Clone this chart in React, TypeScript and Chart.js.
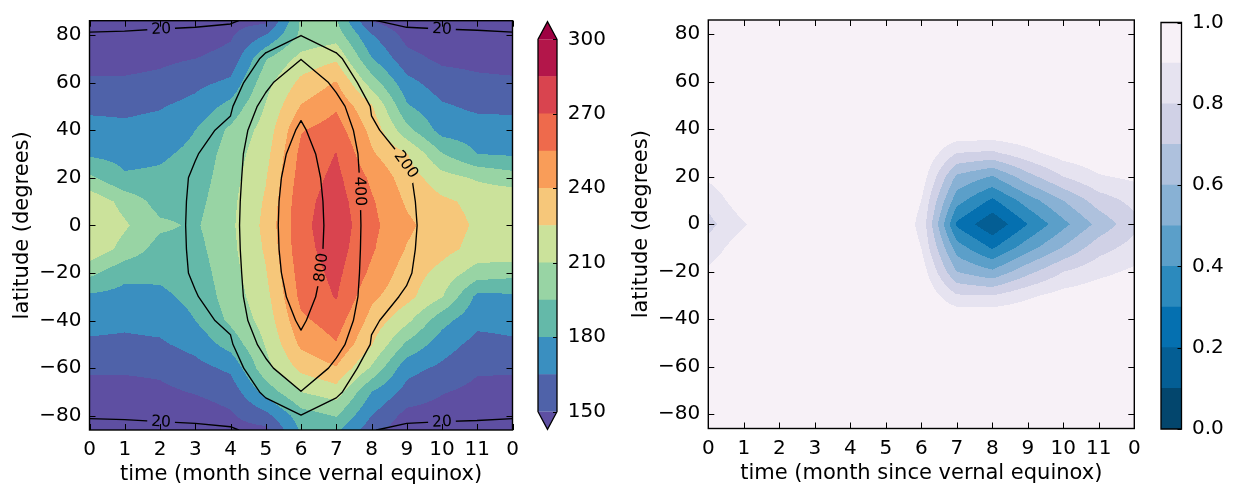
import React, { useEffect, useRef } from "react";
import { Chart, registerables } from "chart.js";

Chart.register(...registerables);

// ---------------- grid axes ----------------
const months = [0, 1, 2, 3, 4, 5, 6, 7, 8, 9, 10, 11, 12];
const monthTicks = [0, 1, 2, 3, 4, 5, 6, 7, 8, 9, 10, 11, 12];
// rows listed north -> south
const latitudes = [86, 80, 70, 60, 50, 40, 30, 20, 10, 0, -10, -20, -30, -40, -50, -60, -70, -80, -86];
const latTicks = [-80, -60, -40, -20, 0, 20, 40, 60, 80];

// ---------------- left panel: filled field (one column per month, north -> south) ----------------
const tempM0 = [134, 138, 145, 152, 162, 170, 177.5, 198, 221, 223, 221, 199, 177, 170, 162.5, 152, 145, 139, 135];
const tempM1 = [134, 138, 145, 152, 162, 168, 175, 182, 205, 212, 205, 184, 175, 168, 162, 152, 145, 139, 135];
const tempM2 = [136, 140, 147, 154, 164, 170, 177.5, 183, 189, 198, 189, 183, 177, 170, 163, 153, 147, 140, 136];
const tempM3 = [137, 142, 150, 161, 170, 180, 184, 187, 190, 193, 190, 187, 184, 180, 170, 160, 151, 142, 137];
const tempM4 = [145, 148, 155, 168, 185, 198, 202, 204, 206, 207, 206, 204, 202, 198, 186, 168, 156, 148, 145];
const tempM5 = [146, 165, 194, 205, 211, 216, 220, 224, 227, 229, 227, 224, 220, 216, 211, 205, 186, 160, 146];
const tempM6 = [197, 198, 215, 229, 241, 254, 259, 262, 265, 266, 265, 262, 259, 252, 243, 229, 210, 188, 182];
const tempM7 = [196, 203, 223, 241, 253, 262, 270.5, 274, 277, 279, 277, 274, 271, 262, 254, 239, 218, 196, 183];
const tempM8 = [149, 166, 181, 203, 227, 236, 242, 252, 257, 259, 257, 252, 243, 235, 226, 208, 180, 165, 156];
const tempM9 = [140, 145, 155, 170, 182, 200, 226, 233, 238, 243, 239, 233, 230, 214, 192, 170, 160, 145, 140];
const tempM10 = [136, 140, 147, 157, 167, 174, 196, 216, 228, 232, 230, 220, 211, 185, 172, 162, 151, 143, 139];
const tempM11 = [135, 139, 146, 153, 162, 172, 180, 208, 221, 223, 220, 203, 176, 169, 160, 152, 146, 140, 135];
const tempM12 = [134, 138, 145, 152, 162, 170, 178, 202, 222, 223, 221, 200, 177, 170, 162.5, 152, 145, 139, 135];

const tempLevels = [150, 165, 180, 195, 210, 225, 240, 255, 270, 285, 300];
const tempColors = ["#4f62a9", "#3a8fc0", "#64b9a9", "#98d4a4", "#cbe29b", "#f6c77a", "#f99d59", "#ee6a4c", "#d9444f", "#b3164a"];
const tempUnder = "#5e4fa2";
const tempOver = "#9e0142";
const tempBarTicks = [150, 180, 210, 240, 270, 300];

// ---------------- left panel: line contour field ----------------
const dustM0 = [12, 22, 32, 45, 60, 75, 88, 95, 98, 100, 98, 95, 88, 75, 60, 45, 32, 22, 12];
const dustM1 = [12, 23, 33, 48, 65, 85, 100, 112, 118, 120, 118, 112, 100, 85, 65, 48, 33, 23, 12];
const dustM2 = [13, 25, 38, 58, 85, 110, 135, 150, 158, 160, 158, 150, 135, 110, 85, 58, 38, 25, 13];
const dustM3 = [14, 27, 45, 80, 130, 162, 195, 212, 214, 215, 214, 212, 195, 162, 130, 80, 45, 27, 14];
const dustM4 = [17, 30, 60, 110, 180, 230, 250, 270, 290, 300, 290, 270, 250, 230, 180, 110, 60, 30, 17];
const dustM5 = [30, 110, 230, 350, 470, 575, 660, 680, 688, 690, 688, 680, 660, 575, 470, 350, 230, 110, 30];
const dustM6 = [90, 195, 395, 580, 740, 840, 900, 950, 985, 1000, 985, 950, 900, 840, 740, 580, 395, 195, 90];
const dustM7 = [50, 110, 230, 349, 470, 575, 660, 680, 688, 692, 688, 680, 660, 575, 470, 349, 230, 110, 50];
const dustM8 = [21, 28, 60, 100, 190, 215, 238, 255, 268, 275, 268, 255, 238, 215, 190, 100, 60, 28, 21];
const dustM9 = [14, 27, 42, 70, 115, 150, 189, 212, 220, 225, 220, 212, 189, 150, 115, 70, 42, 27, 14];
const dustM10 = [13, 25, 35, 55, 80, 100, 120, 130, 138, 140, 138, 130, 120, 100, 80, 55, 35, 25, 13];
const dustM11 = [12, 24, 33, 50, 70, 90, 102, 108, 110, 110, 110, 108, 102, 90, 70, 50, 33, 24, 12];
const dustM12 = [12, 22, 32, 45, 60, 75, 88, 95, 98, 100, 98, 95, 88, 75, 60, 45, 32, 22, 12];

const dustLevels = [20, 200, 400, 800];
const dustLabelLevels = [20, 20, 20, 20, 200, 400, 800];
const dustLabelMonths = [2.03, 10.0, 2.03, 10.0, 8.91, 7.68, 6.59];
const dustLabelLats = [83.2, 83.2, -82.6, -82.9, 24.8, 14.3, -17.8];

// ---------------- right panel: filled fraction field ----------------
const fracM0 = [1, 1, 1, 1, 1, 1, 1, 0.92, 0.83, 0.77, 0.84, 0.92, 1, 1, 1, 1, 1, 1, 1];
const fracM1 = [1, 1, 1, 1, 1, 1, 1, 1, 0.97, 0.89, 0.97, 1, 1, 1, 1, 1, 1, 1, 1];
const fracM2 = [1, 1, 1, 1, 1, 1, 1, 1, 1, 1, 1, 1, 1, 1, 1, 1, 1, 1, 1];
const fracM3 = [1, 1, 1, 1, 1, 1, 1, 1, 1, 1, 1, 1, 1, 1, 1, 1, 1, 1, 1];
const fracM4 = [1, 1, 1, 1, 1, 1, 1, 1, 1, 1, 1, 1, 1, 1, 1, 1, 1, 1, 1];
const fracM5 = [1, 1, 1, 1, 1, 1, 1, 1, 1, 1, 1, 1, 1, 1, 1, 1, 1, 1, 1];
const fracM6 = [1, 1, 1, 1, 1, 1, 1, 0.96, 0.9, 0.878, 0.9, 0.96, 1, 1, 1, 1, 1, 1, 1];
const fracM7 = [1, 1, 1, 1, 1, 1, 0.8, 0.58, 0.44, 0.28, 0.45, 0.6, 0.81, 1, 1, 1, 1, 1, 1];
const fracM8 = [1, 1, 1, 1, 1, 1, 0.78, 0.49, 0.28, 0.12, 0.29, 0.52, 0.8, 1, 1, 1, 1, 1, 1];
const fracM9 = [1, 1, 1, 1, 1, 1, 0.87, 0.66, 0.45, 0.3, 0.46, 0.67, 0.88, 1, 1, 1, 1, 1, 1];
const fracM10 = [1, 1, 1, 1, 1, 1, 0.95, 0.8, 0.6, 0.47, 0.61, 0.8, 0.94, 1, 1, 1, 1, 1, 1];
const fracM11 = [1, 1, 1, 1, 1, 1, 0.98, 0.89, 0.75, 0.63, 0.76, 0.87, 0.97, 1, 1, 1, 1, 1, 1];
const fracM12 = [1, 1, 1, 1, 1, 1, 1, 0.92, 0.83, 0.77, 0.84, 0.92, 1, 1, 1, 1, 1, 1, 1];

const fracLevels = [0, 0.1, 0.2, 0.3, 0.4, 0.5, 0.6, 0.7, 0.8, 0.9, 1.0];
const fracColors = ["#03466d", "#045e94", "#0570b0", "#2c8abd", "#5b9fc9", "#88b1d4", "#aec1dd", "#d0d1e6", "#e6e3f0", "#f7f1f7"];
const fracBarTicks = [0, 0.2, 0.4, 0.6, 0.8, 1.0];

// ---------------- assembled tables ----------------
const tempGrid = [tempM0, tempM1, tempM2, tempM3, tempM4, tempM5, tempM6, tempM7, tempM8, tempM9, tempM10, tempM11, tempM12];
const dustGrid = [dustM0, dustM1, dustM2, dustM3, dustM4, dustM5, dustM6, dustM7, dustM8, dustM9, dustM10, dustM11, dustM12];
const fracGrid = [fracM0, fracM1, fracM2, fracM3, fracM4, fracM5, fracM6, fracM7, fracM8, fracM9, fracM10, fracM11, fracM12];
const dustLabels = dustLabelLevels.map((lv, k) => ({ level: lv, m: dustLabelMonths[k], lat: dustLabelLats[k] }));

const FONT_FAMILY = "'DejaVu Sans', 'Liberation Sans', sans-serif";
const AX_FONT = { family: FONT_FAMILY, size: 20 };
const TITLE_FONT = { family: FONT_FAMILY, size: 21 };
const LABEL_FONT_SIZE = 15.5;

// ---------------- helpers ----------------
function locate(arr: number[], v: number): [number, number] {
  const n = arr.length;
  for (let i = 0; i < n - 1; i++) {
    const a = arr[i], b = arr[i + 1];
    if (v >= Math.min(a, b) && v <= Math.max(a, b)) return [i, (v - a) / (b - a)];
  }
  const asc = arr[n - 1] > arr[0];
  if ((v < arr[0]) === asc) return [0, 0];
  return [n - 2, 1];
}
function sampleAt(g: number[][], i: number, tx: number, j: number, ty: number) {
  const a = g[i][j], b = g[i + 1][j], c = g[i][j + 1], d = g[i + 1][j + 1];
  return (a * (1 - tx) + b * tx) * (1 - ty) + (c * (1 - tx) + d * tx) * ty;
}
function sample(g: number[][], m: number, lat: number) {
  const [i, tx] = locate(months, m);
  const [j, ty] = locate(latitudes, lat);
  return sampleAt(g, i, tx, j, ty);
}
function hexRgb(h: string) {
  const s = h.replace("#", "");
  return [parseInt(s.slice(0, 2), 16), parseInt(s.slice(2, 4), 16), parseInt(s.slice(4, 6), 16)];
}

function fieldPlugin(grid: number[][], levels: number[], colors: string[], under: string | null, over: string | null) {
  const rgb = colors.map(hexRgb);
  const uR = hexRgb(under || colors[0]);
  const oR = hexRgb(over || colors[colors.length - 1]);
  const pick = (v: number) => {
    if (v < levels[0]) return uR;
    if (v > levels[levels.length - 1]) return oR;
    for (let k = 0; k < colors.length; k++) if (v <= levels[k + 1]) return rgb[k];
    return oR;
  };
  return {
    id: "filledField",
    beforeDatasetsDraw(chart: any) {
      const a = chart.chartArea;
      const xs = chart.scales.x, ys = chart.scales.y;
      const x0 = Math.floor(a.left), y0 = Math.floor(a.top);
      const w = Math.ceil(a.right) - x0, h = Math.ceil(a.bottom) - y0;
      const off = document.createElement("canvas");
      off.width = w; off.height = h;
      const octx = off.getContext("2d")!;
      const img = octx.createImageData(w, h);
      const cols: [number, number][] = [];
      for (let px = 0; px < w; px++) cols.push(locate(months, xs.getValueForPixel(x0 + px + 0.5)));
      const rows: [number, number][] = [];
      for (let py = 0; py < h; py++) rows.push(locate(latitudes, ys.getValueForPixel(y0 + py + 0.5)));
      for (let py = 0; py < h; py++) {
        const [j, ty] = rows[py];
        for (let px = 0; px < w; px++) {
          const [i, tx] = cols[px];
          const c = pick(sampleAt(grid, i, tx, j, ty));
          const o = (py * w + px) * 4;
          img.data[o] = c[0]; img.data[o + 1] = c[1]; img.data[o + 2] = c[2]; img.data[o + 3] = 255;
        }
      }
      octx.putImageData(img, 0, 0);
      const ctx = chart.ctx;
      ctx.save();
      ctx.beginPath();
      ctx.rect(a.left, a.top, a.right - a.left, a.bottom - a.top);
      ctx.clip();
      ctx.drawImage(off, x0, y0);
      ctx.restore();
    },
  };
}

function contourSegments(g: number[][], L: number) {
  const segs: number[][] = [];
  for (let i = 0; i < months.length - 1; i++) {
    for (let j = 0; j < latitudes.length - 1; j++) {
      const P = [
        [months[i], latitudes[j]], [months[i + 1], latitudes[j]],
        [months[i + 1], latitudes[j + 1]], [months[i], latitudes[j + 1]],
      ];
      const V = [g[i][j], g[i + 1][j], g[i + 1][j + 1], g[i][j + 1]];
      const S = V.map((v) => v >= L);
      const cross: (number[] | null)[] = [];
      for (let e = 0; e < 4; e++) {
        const a = e, b = (e + 1) % 4;
        if (S[a] !== S[b]) {
          const t = (L - V[a]) / (V[b] - V[a]);
          cross.push([P[a][0] + t * (P[b][0] - P[a][0]), P[a][1] + t * (P[b][1] - P[a][1])]);
        } else cross.push(null);
      }
      const idx = [0, 1, 2, 3].filter((e) => cross[e]);
      if (idx.length === 2) {
        segs.push([...cross[idx[0]]!, ...cross[idx[1]]!]);
      } else if (idx.length === 4) {
        const center = (V[0] + V[1] + V[2] + V[3]) / 4 >= L;
        if (center === S[0]) {
          segs.push([...cross[0]!, ...cross[1]!]);
          segs.push([...cross[2]!, ...cross[3]!]);
        } else {
          segs.push([...cross[3]!, ...cross[0]!]);
          segs.push([...cross[1]!, ...cross[2]!]);
        }
      }
    }
  }
  return segs;
}

function contourLinePlugin(grid: number[][], levels: number[], labels: { level: number; m: number; lat: number }[]) {
  return {
    id: "contourLines",
    afterDatasetsDraw(chart: any) {
      const ctx = chart.ctx;
      const a = chart.chartArea;
      const xs = chart.scales.x, ys = chart.scales.y;
      const f = (px: number, py: number, L: number) =>
        sample(grid, xs.getValueForPixel(px), ys.getValueForPixel(py)) - L;
      const fontSize = LABEL_FONT_SIZE;
      ctx.save();
      ctx.font = `${fontSize}px ${FONT_FAMILY}`;
      const placed = labels.map((lb) => {
        let px = xs.getPixelForValue(lb.m), py = ys.getPixelForValue(lb.lat);
        let gx = 0, gy = 0;
        for (let it = 0; it < 30; it++) {
          const v = f(px, py, lb.level);
          gx = f(px + 0.5, py, lb.level) - f(px - 0.5, py, lb.level);
          gy = f(px, py + 0.5, lb.level) - f(px, py - 0.5, lb.level);
          const g2 = gx * gx + gy * gy;
          if (g2 < 1e-12) break;
          let dx = (-v * gx) / g2, dy = (-v * gy) / g2;
          const len = Math.hypot(dx, dy);
          if (len > 4) { dx *= 4 / len; dy *= 4 / len; }
          px += dx; py += dy;
          if (len < 1e-3) break;
        }
        let ang = Math.atan2(gx, -gy);
        while (ang > Math.PI / 2) ang -= Math.PI;
        while (ang <= -Math.PI / 2) ang += Math.PI;
        const text = String(lb.level);
        const tw = ctx.measureText(text).width;
        return { px, py, ang, text, tw };
      });
      ctx.beginPath();
      ctx.rect(a.left, a.top, a.right - a.left, a.bottom - a.top);
      for (const p of placed) {
        const hw = p.tw / 2 + 4, hh = fontSize * 0.55;
        const ux = Math.cos(p.ang), uy = Math.sin(p.ang);
        const vx = -uy, vy = ux;
        ctx.moveTo(p.px - hw * ux - hh * vx, p.py - hw * uy - hh * vy);
        ctx.lineTo(p.px + hw * ux - hh * vx, p.py + hw * uy - hh * vy);
        ctx.lineTo(p.px + hw * ux + hh * vx, p.py + hw * uy + hh * vy);
        ctx.lineTo(p.px - hw * ux + hh * vx, p.py - hw * uy + hh * vy);
        ctx.closePath();
      }
      ctx.clip("evenodd");
      ctx.strokeStyle = "#000";
      ctx.lineWidth = 1.35;
      ctx.lineCap = "round";
      ctx.lineJoin = "round";
      ctx.beginPath();
      for (const L of levels) {
        for (const s of contourSegments(grid, L)) {
          ctx.moveTo(xs.getPixelForValue(s[0]), ys.getPixelForValue(s[1]));
          ctx.lineTo(xs.getPixelForValue(s[2]), ys.getPixelForValue(s[3]));
        }
      }
      ctx.stroke();
      ctx.restore();
      ctx.save();
      ctx.font = `${fontSize}px ${FONT_FAMILY}`;
      ctx.fillStyle = "#000";
      ctx.textAlign = "center";
      ctx.textBaseline = "middle";
      for (const p of placed) {
        ctx.save();
        ctx.translate(p.px, p.py);
        ctx.rotate(p.ang);
        ctx.fillText(p.text, 0, 0.5);
        ctx.restore();
      }
      ctx.restore();
    },
  };
}

const frameTicksPlugin = {
  id: "frameTicks",
  afterDraw(chart: any) {
    const ctx = chart.ctx;
    const a = chart.chartArea;
    const xs = chart.scales.x, ys = chart.scales.y;
    const L = 6;
    ctx.save();
    ctx.strokeStyle = "#000";
    ctx.lineWidth = 1;
    ctx.beginPath();
    for (const t of monthTicks) {
      const p = Math.round(xs.getPixelForValue(t)) + 0.5;
      ctx.moveTo(p, a.top); ctx.lineTo(p, a.top + L);
      ctx.moveTo(p, a.bottom); ctx.lineTo(p, a.bottom - L);
    }
    for (const t of latTicks) {
      const p = Math.round(ys.getPixelForValue(t)) + 0.5;
      ctx.moveTo(a.left, p); ctx.lineTo(a.left + L, p);
      ctx.moveTo(a.right, p); ctx.lineTo(a.right - L, p);
    }
    ctx.stroke();
    ctx.lineWidth = 1.4;
    ctx.strokeRect(a.left, a.top, a.right - a.left, a.bottom - a.top);
    ctx.restore();
  },
};

const fmtLat = (v: number) => (v < 0 ? "\u2212" + Math.abs(v) : String(v));

function mainConfig(o: {
  plugins: any[]; yAxisWidth: number; xAxisHeight: number; padTop: number; padRight: number;
  yTitlePad: number; xTitlePad: number;
}) {
  return {
    type: "scatter" as const,
    data: { datasets: [{ data: [] as any[] }] },
    options: {
      animation: false as const,
      responsive: false,
      devicePixelRatio: 1,
      events: [] as any[],
      layout: { padding: { left: 0, top: o.padTop, right: o.padRight, bottom: 0 } },
      plugins: { legend: { display: false }, tooltip: { enabled: false } },
      scales: {
        x: {
          type: "linear" as const, min: 0, max: 12,
          afterBuildTicks: (s: any) => { s.ticks = monthTicks.map((v) => ({ value: v })); },
          afterFit: (s: any) => { s.height = o.xAxisHeight; },
          grid: { display: false, drawTicks: false },
          border: { display: false },
          ticks: {
            autoSkip: false, maxRotation: 0, padding: 7.8, color: "#000", font: AX_FONT,
            callback: (v: any) => String(Number(v) % 12),
          },
          title: {
            display: true, text: "time (month since vernal equinox)", color: "#000", font: TITLE_FONT,
            padding: { top: 0, bottom: o.xTitlePad },
          },
        },
        y: {
          type: "linear" as const, min: -86, max: 86,
          afterBuildTicks: (s: any) => { s.ticks = latTicks.map((v) => ({ value: v })); },
          afterFit: (s: any) => { s.width = o.yAxisWidth; },
          grid: { display: false, drawTicks: false },
          border: { display: false },
          ticks: { autoSkip: false, padding: 8, color: "#000", font: AX_FONT, callback: (v: any) => fmtLat(Number(v)) },
          title: {
            display: true, text: "latitude (degrees)", color: "#000", font: TITLE_FONT,
            padding: { top: o.yTitlePad, bottom: 0 },
          },
        },
      },
    },
    plugins: o.plugins,
  };
}

function colorbarPlugin(under: string | null, over: string | null, ticks: number[]) {
  return {
    id: "cbarDeco",
    afterDraw(chart: any) {
      const ctx = chart.ctx;
      const a = chart.chartArea;
      const ys = chart.scales.y;
      const cx = (a.left + a.right) / 2;
      const th = 17.6;
      ctx.save();
      if (over) {
        ctx.fillStyle = over;
        ctx.beginPath(); ctx.moveTo(a.left, a.top); ctx.lineTo(cx, a.top - th); ctx.lineTo(a.right, a.top); ctx.closePath(); ctx.fill();
      }
      if (under) {
        ctx.fillStyle = under;
        ctx.beginPath(); ctx.moveTo(a.left, a.bottom); ctx.lineTo(cx, a.bottom + th); ctx.lineTo(a.right, a.bottom); ctx.closePath(); ctx.fill();
      }
      ctx.strokeStyle = "#000";
      ctx.lineWidth = 1.3;
      ctx.beginPath();
      ctx.moveTo(a.left, a.top);
      if (over) ctx.lineTo(cx, a.top - th);
      ctx.lineTo(a.right, a.top);
      ctx.lineTo(a.right, a.bottom);
      if (under) ctx.lineTo(cx, a.bottom + th);
      ctx.lineTo(a.left, a.bottom);
      ctx.closePath();
      ctx.stroke();
      ctx.lineWidth = 1;
      ctx.beginPath();
      for (const t of ticks) {
        const p = Math.round(ys.getPixelForValue(t)) + 0.5;
        ctx.moveTo(a.right, p); ctx.lineTo(a.right - 4, p);
      }
      ctx.stroke();
      ctx.restore();
    },
  };
}

function colorbarConfig(o: {
  levels: number[]; colors: string[]; under: string | null; over: string | null; ticks: number[];
  fmt: (v: number) => string; padLeft: number; padTop: number; padBottom: number; axisWidth: number; labelPad: number;
}) {
  return {
    type: "bar" as const,
    data: {
      labels: [""],
      datasets: o.colors.map((c, k) => ({
        data: [[o.levels[k], o.levels[k + 1]]] as any,
        backgroundColor: c,
        borderWidth: 0,
        barPercentage: 1,
        categoryPercentage: 1,
        grouped: false,
      })),
    },
    options: {
      animation: false as const,
      responsive: false,
      devicePixelRatio: 1,
      events: [] as any[],
      layout: { padding: { left: o.padLeft, top: o.padTop, right: 0, bottom: o.padBottom } },
      plugins: { legend: { display: false }, tooltip: { enabled: false } },
      scales: {
        x: { display: false },
        y: {
          position: "right" as const,
          min: o.levels[0], max: o.levels[o.levels.length - 1],
          afterBuildTicks: (s: any) => { s.ticks = o.ticks.map((v) => ({ value: v })); },
          afterFit: (s: any) => { s.width = o.axisWidth; },
          grid: { display: false, drawTicks: false },
          border: { display: false },
          ticks: { padding: o.labelPad, color: "#000", font: AX_FONT, callback: (v: any) => o.fmt(Number(v)) },
        },
      },
    },
    plugins: [colorbarPlugin(o.under, o.over, o.ticks)],
  };
}

export default function App() {
  const leftRef = useRef<HTMLCanvasElement>(null);
  const leftBarRef = useRef<HTMLCanvasElement>(null);
  const rightRef = useRef<HTMLCanvasElement>(null);
  const rightBarRef = useRef<HTMLCanvasElement>(null);

  useEffect(() => {
    document.body.style.margin = "0";
    const charts: Chart[] = [];
    charts.push(
      new Chart(
        leftRef.current!,
        mainConfig({
          plugins: [
            fieldPlugin(tempGrid, tempLevels, tempColors, tempUnder, tempOver),
            contourLinePlugin(dustGrid, dustLevels, dustLabels),
            frameTicksPlugin,
          ],
          yAxisWidth: 89.5, xAxisHeight: 61, padTop: 20.7, padRight: 17.5, yTitlePad: 10.1, xTitlePad: 3.4,
        }) as any
      )
    );
    charts.push(
      new Chart(
        leftBarRef.current!,
        colorbarConfig({
          levels: tempLevels, colors: tempColors, under: tempUnder, over: tempOver, ticks: tempBarTicks,
          fmt: (v) => String(v), padLeft: 8, padTop: 39.3, padBottom: 79.3, axisWidth: 53, labelPad: 10.7,
        }) as any
      )
    );
    charts.push(
      new Chart(
        rightRef.current!,
        mainConfig({
          plugins: [fieldPlugin(fracGrid, fracLevels, fracColors, null, null), frameTicksPlugin],
          yAxisWidth: 108.3, xAxisHeight: 62.5, padTop: 16.3, padRight: 15.7, yTitlePad: 29.4, xTitlePad: 4.6,
        }) as any
      )
    );
    charts.push(
      new Chart(
        rightBarRef.current!,
        colorbarConfig({
          levels: fracLevels, colors: fracColors, under: null, over: null, ticks: fracBarTicks,
          fmt: (v) => v.toFixed(1), padLeft: 11, padTop: 16.7, padBottom: 62, axisWidth: 54.5, labelPad: 10.5,
        }) as any
      )
    );
    return () => charts.forEach((c) => c.destroy());
  }, []);

  return (
    <div style={{ position: "relative", width: 1236, height: 491, background: "#fff", overflow: "hidden" }}>
      <canvas ref={leftRef} width={530} height={491} style={{ position: "absolute", left: 0, top: 0 }} />
      <canvas ref={leftBarRef} width={80} height={491} style={{ position: "absolute", left: 530, top: 0 }} />
      <canvas ref={rightRef} width={550} height={491} style={{ position: "absolute", left: 600, top: 0 }} />
      <canvas ref={rightBarRef} width={86} height={491} style={{ position: "absolute", left: 1150, top: 0 }} />
    </div>
  );
}
